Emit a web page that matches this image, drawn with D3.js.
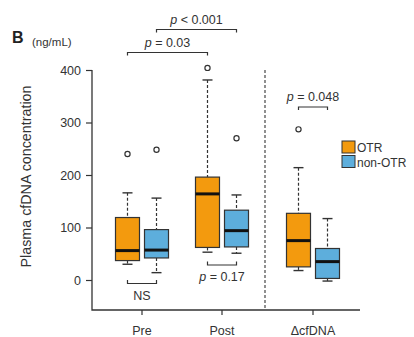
<!DOCTYPE html>
<html><head><meta charset="utf-8">
<script src="https://cdn.jsdelivr.net/npm/d3@7"></script>
<style>body{margin:0;background:#fff;}svg{display:block;font-family:"Liberation Sans",Arial,sans-serif;}</style>
</head><body>
<svg id="c" width="414" height="337"></svg>
<script>
const groups = ["Pre", "Post", "ΔcfDNA"];
const seriesNames = ["OTR", "non-OTR"];
const seriesColors = ["#F39A0E", "#5DAEDC"];
const yTicks = [0, 100, 200, 300, 400];
// [whiskerLow, q1, median, q3, whiskerHigh]
const otrStats = [[30, 37, 56, 119, 166], [53, 62, 164, 196, 381], [18, 25, 75, 127, 214]];
const nonOtrStats = [[14, 42, 57, 96, 156], [51, 63, 94, 133, 162], [-2, 3, 35, 60, 117]];
const otrOutliers = [[240], [404], [287]];
const nonOtrOutliers = [[248], [270], []];
const comparisons = [
  {label: "p = 0.03", from: [0, 0], to: [1, 0], level: 1},
  {label: "p < 0.001", from: [0, 1], to: [1, 1], level: 2},
  {label: "NS", from: [0, 0], to: [0, 1], level: -1},
  {label: "p = 0.17", from: [1, 0], to: [1, 1], level: -1},
  {label: "p = 0.048", from: [2, 0], to: [2, 1], level: 0}
];

const svg = d3.select("#c");
const y = d3.scaleLinear().domain([0, 400]).range([280, 70]);
const groupPos = [0, 1, 2.1375];
const x = d3.scaleLinear().domain([0, 1]).range([142, 222]);
const off = 0.1813, boxW = 24, capW = 10;
const cx = (g, s) => x(groupPos[g] + (s === 0 ? -off : off));
const ink = "#333";

// axes
const yAxis = d3.axisLeft(y).tickValues(yTicks).tickSize(6).tickPadding(5);
const ga = svg.append("g").attr("transform", "translate(92,0)").call(yAxis);
ga.select(".domain").remove();
ga.selectAll("line").attr("stroke", ink).attr("stroke-width", 1.2);
ga.selectAll("text").attr("font-size", 12.5).attr("fill", "#333");
svg.append("path").attr("d", `M92,${y(400)}V310H360`).attr("fill", "none").attr("stroke", ink).attr("stroke-width", 1.3);
groups.forEach((g, i) => {
  const px = x(groupPos[i]);
  svg.append("line").attr("x1", px).attr("x2", px).attr("y1", 310).attr("y2", 315).attr("stroke", ink).attr("stroke-width", 1.2);
  svg.append("text").attr("x", px).attr("y", 335).attr("text-anchor", "middle").attr("font-size", 12.5).attr("fill", "#333").text(g);
});
svg.append("line").attr("x1", x(1.5375)).attr("x2", x(1.5375)).attr("y1", 70).attr("y2", 310)
  .attr("stroke", "#555").attr("stroke-width", 1.3).attr("stroke-dasharray", "3,2");

// boxes
[otrStats, nonOtrStats].forEach((stats, s) => {
  const outl = s === 0 ? otrOutliers : nonOtrOutliers;
  stats.forEach((d, g) => {
    const c = cx(g, s);
    const gg = svg.append("g");
    gg.append("line").attr("x1", c).attr("x2", c).attr("y1", y(d[4])).attr("y2", y(d[3])).attr("stroke", ink).attr("stroke-width", 1.2).attr("stroke-dasharray", "3,2");
    gg.append("line").attr("x1", c).attr("x2", c).attr("y1", y(d[1])).attr("y2", y(d[0])).attr("stroke", ink).attr("stroke-width", 1.2).attr("stroke-dasharray", "3,2");
    [d[0], d[4]].forEach(v => gg.append("line").attr("x1", c - capW / 2).attr("x2", c + capW / 2).attr("y1", y(v)).attr("y2", y(v)).attr("stroke", ink).attr("stroke-width", 1.4));
    gg.append("rect").attr("x", c - boxW / 2).attr("width", boxW).attr("y", y(d[3])).attr("height", y(d[1]) - y(d[3]))
      .attr("fill", seriesColors[s]).attr("stroke", ink).attr("stroke-width", 1.2);
    gg.append("line").attr("x1", c - boxW / 2).attr("x2", c + boxW / 2).attr("y1", y(d[2])).attr("y2", y(d[2])).attr("stroke", "#111").attr("stroke-width", 3);
    outl[g].forEach(v => gg.append("circle").attr("cx", c).attr("cy", y(v)).attr("r", 2.6).attr("fill", "none").attr("stroke", ink).attr("stroke-width", 1.2));
  });
});

// significance brackets
const levelY = {2: 29.5, 1: 52.5, 0: 107};
comparisons.forEach(cmp => {
  const x1 = cx(cmp.from[0], cmp.from[1]), x2 = cx(cmp.to[0], cmp.to[1]);
  const mid = (x1 + x2) / 2;
  let by, leg, ty;
  if (cmp.level >= 0) { by = levelY[cmp.level]; leg = 3; ty = by - 6; }
  else {
    const g = cmp.from[0];
    by = g === 0 ? 283.5 : 265; leg = -3.5; ty = by + 16;
  }
  svg.append("path").attr("d", `M${x1},${by + leg}V${by}H${x2}V${by + leg}`).attr("fill", "none").attr("stroke", ink).attr("stroke-width", 1.2);
  const t = svg.append("text").attr("x", mid).attr("y", ty).attr("text-anchor", "middle").attr("font-size", 12.5).attr("fill", "#333");
  if (cmp.label.startsWith("p")) {
    t.append("tspan").attr("font-style", "italic").text("p");
    t.append("tspan").text(cmp.label.slice(1));
  } else t.text(cmp.label);
});

// legend
seriesNames.forEach((n, i) => {
  const ly = 141 + i * 14.5;
  svg.append("rect").attr("x", 342).attr("y", ly).attr("width", 13).attr("height", 12).attr("fill", seriesColors[i]).attr("stroke", ink).attr("stroke-width", 1);
  svg.append("text").attr("x", 357).attr("y", ly + 11).attr("font-size", 12).attr("fill", "#333").text(n);
});

// titles
svg.append("text").attr("x", 12).attr("y", 43).attr("font-size", 16).attr("font-weight", "bold").attr("fill", "#222").text("B");
svg.append("text").attr("x", 32).attr("y", 46).attr("font-size", 11.5).attr("fill", "#333").text("(ng/mL)");
svg.append("text").attr("transform", "translate(31,176.5) rotate(-90)").attr("text-anchor", "middle").attr("font-size", 14.3).attr("fill", "#333").text("Plasma cfDNA concentration");
</script>
</body></html>
